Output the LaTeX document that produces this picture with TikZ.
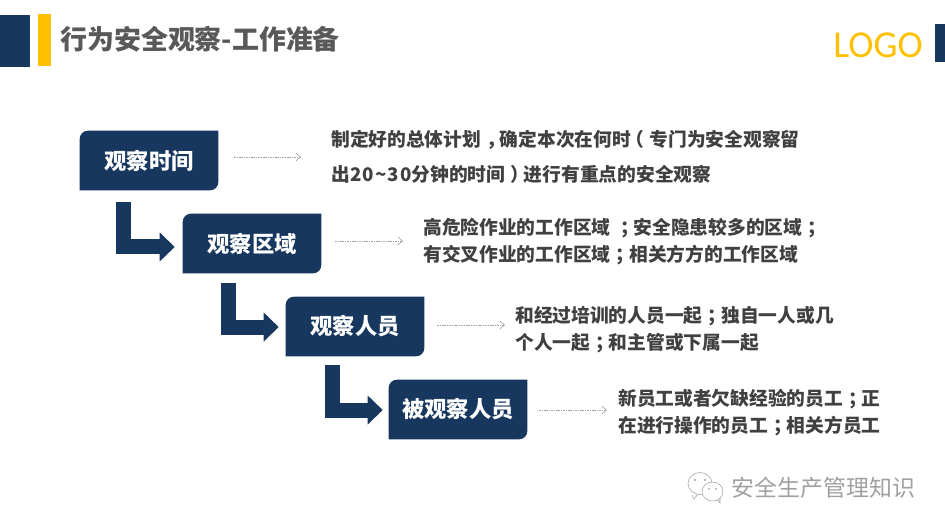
\documentclass[tikz,border=0pt]{standalone}
\usepackage{fontspec}
\usetikzlibrary{calc,arrows.meta,backgrounds}
\setmainfont{Noto Sans CJK SC}
\newfontfamily\logofont{Carlito}
\definecolor{navyblue}{RGB}{23,55,94}
\definecolor{logoyellow}{RGB}{255,192,0}
\definecolor{titlegray}{RGB}{89,89,89}
\definecolor{bodygray}{RGB}{64,64,64}
\definecolor{dashgray}{RGB}{165,165,165}
\definecolor{markgray}{RGB}{160,160,160}
\newcommand{\leafbox}[1]{\fill[navyblue] (#1.south west) [rounded corners=6pt] -- (#1.north west) [sharp corners] -- (#1.north east) [rounded corners=6pt] -- (#1.south east) [sharp corners] -- cycle;}
\newcommand{\pn}[1]{\hbox to 1em{\hskip.28em #1\hss}}
\newcommand{\pr}[1]{\hbox to 1em{\hss #1\hskip.28em}}

\begin{document}
\begin{tikzpicture}[x=.75pt, y=-.75pt, node distance=62.25pt]
\tikzstyle{stage} = [rectangle, minimum width=103.5pt, minimum height=44.25pt, inner sep=0pt, text=white, font=\fontsize{16.7}{20}\selectfont\bfseries]
\tikzstyle{desc} = [anchor=west, align=left, inner sep=0pt, text=bodygray, font=\fontsize{14.05}{20.25}\selectfont\bfseries]
\tikzstyle{turn} = [draw=navyblue, line width=11.25pt, line join=miter, -{Triangle[length=11.25pt, width=21pt]}]
\tikzstyle{hint} = [draw=dashgray, line width=.5pt, dash pattern=on 1.2pt off .6pt, -{Straight Barb[length=3.5pt, width=6pt]}]
\tikzstyle{bubble} = [draw=markgray, fill=white, line width=.4pt]

\useasboundingbox (0,0) rectangle (945,529);

\fill[navyblue] (0,15) rectangle (30,67);
\fill[logoyellow] (38,14) rectangle (51,66);
\fill[navyblue] (935,24) rectangle (945,62);
\node (title) [anchor=west, inner sep=0pt, text=titlegray, font=\fontsize{20.2}{24}\selectfont\bfseries] at (60,39) {行为安全观察-工作准备};
\node (logo) [anchor=west, inner sep=0pt, text=logoyellow, font=\fontsize{28.5}{32}\logofont] at (833,45) {LOGO};

\node (time) [stage] at (149,160.5) {观察时间};
\node (area) [stage, below of=time, xshift=77.25pt] {观察区域};
\node (staff) [stage, below of=area, xshift=77.25pt] {观察人员};
\node (observed) [stage, below of=staff, xshift=77.25pt] {被观察人员};

\begin{pgfonlayer}{background}
\leafbox{time}
\leafbox{area}
\leafbox{staff}
\leafbox{observed}
\end{pgfonlayer}

\node (timetext) [right of=time, desc, xshift=74.25pt, yshift=3pt] {制定好的总体计划\pn{，}确定本次在何时\pr{（}专门为安全观察留\\[6pt]出{\addfontfeature{LetterSpace=6}20\textasciitilde30}分钟的时间\pn{）}进行有重点的安全观察};
\node (areatext) [right of=area, desc, xshift=66pt, yshift=1.5pt] {高危险作业的工作区域 \pn{；}安全隐患较多的区域\pn{；}\\有交叉作业的工作区域\pn{；}相关方方的工作区域};
\node (stafftext) [right of=staff, desc, xshift=57.75pt, yshift=-2.25pt] {和经过培训的人员一起\pn{；}独自一人或几\\个人一起\pn{；}和主管或下属一起};
\node (observedtext) [right of=observed, desc, xshift=57.75pt, yshift=-2.25pt] {新员工或者欠缺经验的员工\pn{；}正\\在进行操作的员工\pn{；}相关方员工};

% block arrows
\coordinate (turn1) at ($(time.south west)+(32.6pt,-9pt)$);
\coordinate (turn2) at ($(area.south west)+(34.1pt,-7.5pt)$);
\coordinate (turn3) at ($(staff.south west)+(34.9pt,-6.75pt)$);
\coordinate (head1) at ($(area.west)+(-6pt,-2.6pt)$);
\coordinate (head2) at ($(staff.west)+(-5.25pt,-.4pt)$);
\coordinate (head3) at ($(observed.west)+(-4.5pt,-.4pt)$);
\draw[turn] (turn1) |- (head1);
\draw[turn] (turn2) |- (head2);
\draw[turn] (turn3) |- (head3);

% dashed arrows
\coordinate (hint1) at ($(time.east)+(12pt,2.6pt)$);
\coordinate (hint2) at ($(area.east)+(10.5pt,1.9pt)$);
\coordinate (hint3) at ($(staff.east)+(9.75pt,1.1pt)$);
\coordinate (hint4) at ($(observed.east)+(9pt,-.4pt)$);
\draw[hint, shorten >=22.5pt] (hint1) -- (hint1 -| timetext.west);
\draw[hint, shorten >=15pt] (hint2) -- (hint2 -| areatext.west);
\draw[hint, shorten >=7.5pt] (hint3) -- (hint3 -| stafftext.west);
\draw[hint, shorten >=8.25pt] (hint4) -- (hint4 -| observedtext.west);

% watermark
\draw[bubble] (692,495) -- (694,499) -- (698,494);
\draw[bubble] (700,483.5) ellipse [x radius=12, y radius=11];
\fill[markgray] (695,480) circle [radius=1.2] (705,480) circle [radius=1.2];
\draw[bubble] (716,498) -- (720,503) -- (720,496);
\draw[bubble] (712.5,491.5) ellipse [x radius=10.5, y radius=9.5];
\fill[markgray] (709,489) circle [radius=1] (716,489) circle [radius=1];
\node (marktext) [anchor=west, inner sep=0pt, text=markgray, font=\fontsize{17.2}{20}\selectfont] at (731.5,488) {安全生产管理知识};
\end{tikzpicture}
\end{document}
